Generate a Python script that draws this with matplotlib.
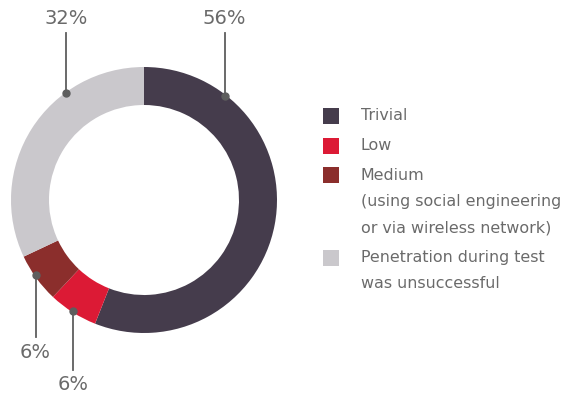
import numpy as np
import matplotlib.pyplot as plt
from matplotlib.patches import Rectangle

# Share of tests by difficulty of getting in
labels = ["Trivial", "Low", "Medium\n(using social engineering\nor via wireless network)",
          "Penetration during test\nwas unsuccessful"]
shares = [56, 6, 6, 32]
colors = ["#453c4c", "#dc1a35", "#8b2e2c", "#cac8cc"]

# where each callout sits: angle on the ring (deg) and the label's y position
callout_angle = [52.3, -122.6, -145.2, 126.1]
callout_text_y = [382, 15, 48, 382]

text_color = "#6a6a6a"
line_color = "#5e5e5e"
plt.rcParams['font.family'] = ['DejaVu Sans']

fig = plt.figure(figsize=(5.68, 4.0), dpi=100)
ax = fig.add_axes([0, 0, 1, 1])

cx, cy, r_out, ring = 144, 200, 133, 38
ax.pie(shares, colors=colors, startangle=90, counterclock=False,
       radius=r_out, center=(cx, cy), frame=True,
       wedgeprops=dict(width=ring, linewidth=0))
ax.set_xlim(0, 568)
ax.set_ylim(0, 400)
ax.set_aspect("equal")
ax.axis("off")

# callouts: dot on the ring, vertical line, percentage
for val, ang, ty in zip(shares, callout_angle, callout_text_y):
    a = np.deg2rad(ang)
    px = cx + (r_out - 1) * np.cos(a)
    py = cy + (r_out - 1) * np.sin(a)
    end = ty - 15 if ty > py else ty + 15
    ax.plot([px, px], [py, end], color=line_color, lw=1.3, zorder=3)
    ax.plot(px, py, "o", color=line_color, ms=5, zorder=4)
    ax.text(px, ty, f"{val}%", ha="center", va="center",
            fontsize=14, color=text_color)

# legend
sq_x, txt_x, line_h = 323, 361, 26.5
y = 400 - 116
for lab, col in zip(labels, colors):
    ax.add_patch(Rectangle((sq_x, y - 8), 16, 16, color=col, lw=0))
    for i, line in enumerate(lab.split("\n")):
        ax.text(txt_x, y - i * line_h, line, ha="left", va="center",
                fontsize=11.4, color=text_color)
    y -= 29.5 if lab.count("\n") == 0 else 29.5 + lab.count("\n") * line_h

fig.savefig("out.png", dpi=100)
